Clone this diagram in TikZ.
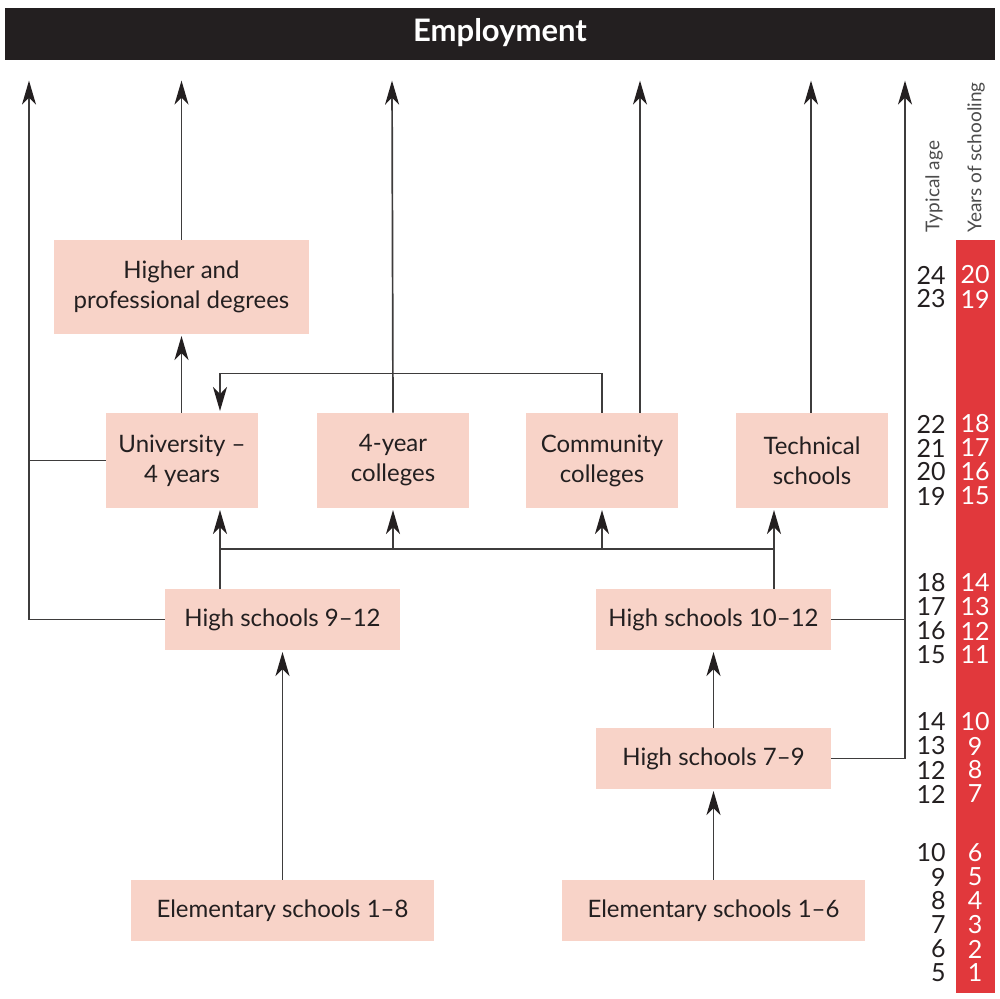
\documentclass[tikz,border=0pt]{standalone}
\usepackage{fontspec}
\setmainfont{Lato}
\usetikzlibrary{arrows.meta}

\definecolor{boxpink}{RGB}{248,211,200}
\definecolor{barred}{RGB}{225,56,60}
\definecolor{inkblack}{RGB}{35,31,32}
\definecolor{linegray}{RGB}{62,60,60}

\tikzset{
  school/.style={fill=boxpink, inner sep=0pt, align=center, text=inkblack,
    font=\fontsize{12}{15}\selectfont},
  tallbox/.style={school, minimum width=76pt, minimum height=47.5pt},
  widebox/.style={school, minimum width=117.5pt, minimum height=30.5pt},
  elembox/.style={school, minimum width=151.5pt, minimum height=30.5pt},
  link/.style={line width=0.85pt, draw=linegray},
  arr/.style={link, -{Stealth[length=12pt, width=7pt, inset=3.5pt, color=inkblack]},
    shorten >=0.8pt},
  agenum/.style={anchor=east, inner sep=0pt, text=inkblack, font=\fontsize{12.5}{12}\selectfont},
  yrnum/.style={inner sep=0pt, text=white, font=\fontsize{12.5}{12}\selectfont},
  sidelabel/.style={rotate=90, anchor=west, inner sep=0pt, text=black!70,
    font=\fontsize{9.5}{9.5}\selectfont},
}

\begin{document}
\begin{tikzpicture}[x=0.5pt, y=-0.5pt]
    \useasboundingbox (0,0) rectangle (1000,998);

    % top bar and the schooling scale
    \fill[inkblack] (5,8) rectangle (995,60);
    \node[text=white, font=\fontsize{15.5}{15.5}\selectfont\bfseries] (employ) at (500,33) {Employment};
    \fill[barred] (956,240) rectangle (995,993);
    \node[sidelabel] (agehead) at (934,233) {Typical age};
    \node[sidelabel] (yearhead) at (976,233) {Years of schooling};

    % schools
    \node[school, minimum width=127.5pt, minimum height=47pt] (higher) at (181.5,287)
        {Higher and\\professional degrees};
    \node[tallbox] (univ) at (182,460.5) {University –\\4 years};
    \node[tallbox] (coll4) at (393,460.5) {4-year\\colleges};
    \node[tallbox] (comm) at (602,460.5) {Community\\colleges};
    \node[tallbox] (tech) at (812,460.5) {Technical\\schools};
    \node[widebox] (hsA) at (282.5,619.5) {High schools 9–12};
    \node[widebox] (hsB) at (713.5,619.5) {High schools 10–12};
    \node[widebox] (hsC) at (713.5,758.5) {High schools 7–9};
    \node[elembox] (elemA) at (282.5,910.5) {Elementary schools 1–8};
    \node[elembox] (elemB) at (713.5,910.5) {Elementary schools 1–6};

    % arrow tips under the top bar
    \coordinate (e1) at (29,79);
    \coordinate (e2) at (181.5,79);
    \coordinate (e3) at (392,79);
    \coordinate (e4) at (640,79);
    \coordinate (e5) at (811,79);
    \coordinate (e6) at (905,79);
    \coordinate (bus) at (0,549);
    \path (univ.north) ++(38,0) coordinate (uin);
    \path (univ.south) ++(38,0) coordinate (uout);
    \path (tech.south) ++(-38,0) coordinate (tout);

    \draw[arr] (hsA.west) -| (e1);
    \draw[link] (univ.west) -- (univ.west -| e1);
    \draw[arr] (univ.north -| higher.south) -- (higher.south);
    \draw[arr] (higher.north) -- (e2);
    \draw[arr] (coll4.north) -- (e3);
    \draw[arr] (comm.north -| e4) -- (e4);
    \draw[arr] (tech.north -| e5) -- (e5);
    \draw[arr] (hsC.east) -| (e6);
    \draw[link] (hsB.east) -- (hsB.east -| e6);
    \draw[arr] (comm.north) -- ++(0,-39) -| (uin);

    \draw[arr] (hsA.north -| uout) -- (uout);
    \draw[link] (bus -| uout) -- (bus -| tout);
    \draw[arr] (bus -| coll4.south) -- (coll4.south);
    \draw[arr] (bus -| comm.south) -- (comm.south);
    \draw[arr] (hsB.north -| tout) -- (tout);
    \draw[arr] (elemA.north) -- (hsA.south);
    \draw[arr] (hsC.north) -- (hsB.south);
    \draw[arr] (elemB.north) -- (hsC.south);

    % typical age and years of schooling
    \foreach \age/\yr/\y in {24/20/275, 23/19/299,
        22/18/424, 21/17/448, 20/16/472, 19/15/496,
        18/14/583, 17/13/607, 16/12/631, 15/11/655,
        14/10/722, 13/9/746, 12/8/770, 12/7/794,
        10/6/853, 9/5/877, 8/4/901, 7/3/925, 6/2/949, 5/1/973} {
      \node[agenum] (age\yr) at (946,\y) {\age};
      \node[yrnum] (yr\yr) at (975,\y) {\yr};
    }
\end{tikzpicture}
\end{document}
